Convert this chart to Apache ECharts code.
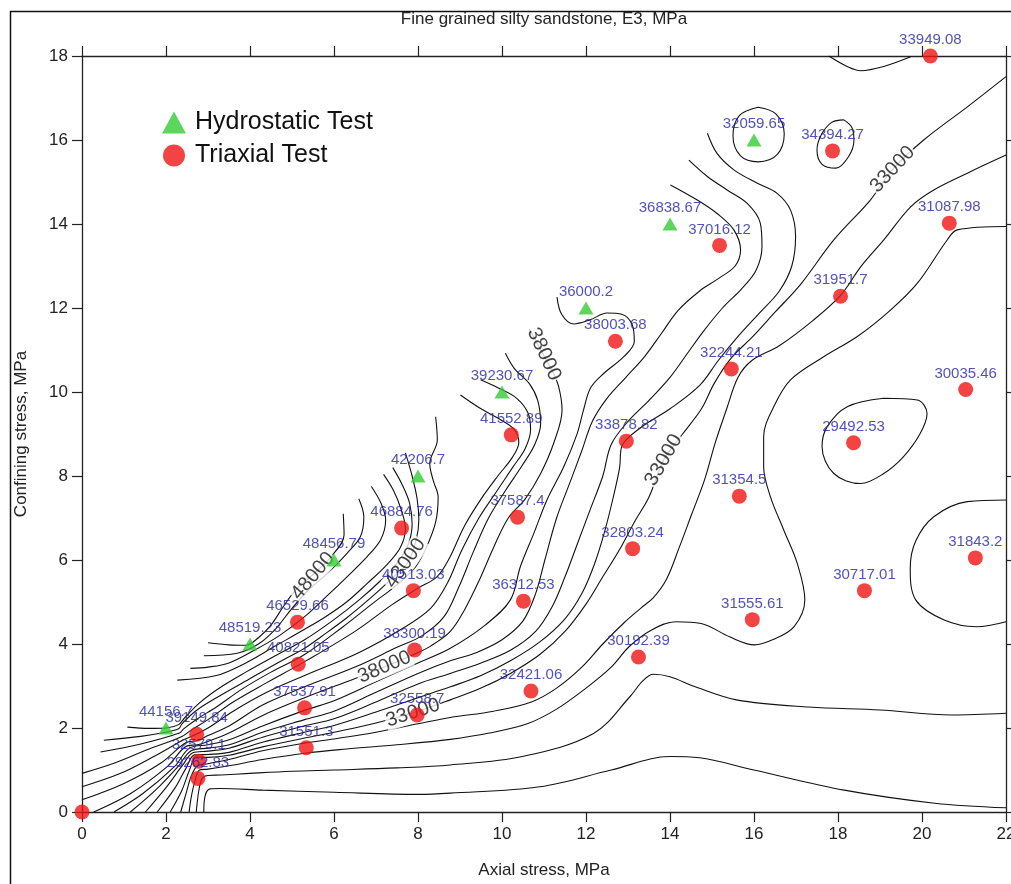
<!DOCTYPE html>
<html>
<head>
<meta charset="utf-8">
<script src="https://cdn.jsdelivr.net/npm/echarts@6.0.0/dist/echarts.min.js"></script>
<style>html,body{margin:0;padding:0;background:#fff;overflow:hidden}#chart{width:1011px;height:884px}</style>
</head>
<body>
<div id="chart"></div>
<script>
// ---- data points ----
const hydroX = [2, 4, 6, 8, 10, 12, 14, 16];
const hydroY = [2, 4, 6, 8, 10, 12, 14, 16];
const hydroLabels = ['44156.7','48519.23','48456.79','42206.7','39230.67','36000.2','36838.67','32059.65'];

const triaxX = [0, 20.2, 17.87, 20.65, 15.18, 18.06, 12.7, 15.46, 21.04, 10.22, 12.96, 18.37, 10.37, 15.65, 7.61, 13.11, 21.27, 18.63, 7.89, 10.51, 15.96, 5.13, 7.92, 5.15, 13.25, 5.3, 10.69, 7.98, 5.34, 2.73, 2.78, 2.76];
const triaxY = [0, 18, 15.74, 14.02, 13.49, 12.28, 11.21, 10.55, 10.06, 8.98, 8.83, 8.79, 7.02, 7.52, 6.76, 6.27, 6.05, 5.27, 5.27, 5.02, 4.58, 4.52, 3.86, 3.52, 3.69, 2.48, 2.88, 2.31, 1.53, 1.85, 1.21, 0.8];
const triaxLabels = ['', '33949.08','34394.27','31087.98','37016.12','31951.7','38003.68','32244.21','30035.46','41552.89','33878.82','29492.53','37587.4','31354.5','46884.76','32803.24','31843.2','30717.01','40513.03','36312.53','31555.61','46529.66','38300.19','40821.05','30192.39','37537.91','32421.06','32558.7','31551.3','39149.84','32579.1','29262.83'];

// ---- contour lines (data units) ----
const c48000 = [[6.22,7.1],[6.24,6.6],[5.95,6.1],[5.55,5.7],[5.1,5.3],[4.8,4.9],[4.5,4.45],[4.2,4.15],[3.9,3.97],[3.5,3.98],[3.0,4.03]];
const c47000 = [[6.59,7.46],[6.71,7.03],[6.63,6.56],[6.31,6.16],[5.84,5.68],[5.36,5.25],[5.0,4.85],[4.6,4.35],[4.2,4.0],[3.7,3.78],[2.9,3.72]];
const c46000 = [[6.89,7.75],[7.12,7.35],[7.23,6.95],[7.11,6.48],[6.79,6.08],[6.31,5.6],[5.84,5.15],[5.3,4.65],[4.7,4.2],[4.1,3.85],[3.5,3.55],[3.0,3.45],[2.58,3.42]];
const c45000 = [[7.18,8.04],[7.42,7.65],[7.6,7.2],[7.7,6.75],[7.58,6.3],[7.25,5.88],[6.8,5.45],[6.3,5.0],[5.8,4.65],[5.3,4.35],[4.6,3.95],[3.9,3.55],[3.2,3.25],[2.27,3.14]];
const c44000 = [[7.4,8.2],[7.62,7.8],[7.8,7.35],[7.86,6.85],[7.76,6.35],[7.5,5.92],[7.1,5.5],[6.6,5.05],[6.0,4.58],[5.3,4.1],[4.6,3.72],[3.9,3.33],[3.3,2.97],[2.8,2.6],[2.45,2.25],[2.3,2.08],[2.0,2.0],[1.6,1.99],[1.08,2.02]];
const c43000 = [[7.7,8.55],[7.86,8.0],[7.98,7.45],[8.02,6.95],[7.95,6.45],[7.75,5.93],[7.4,5.58],[6.9,5.12],[6.3,4.62],[5.7,4.18],[5.3,3.9],[4.6,3.52],[3.9,3.12],[3.2,2.72],[2.7,2.4],[2.38,2.1],[2.3,1.98],[1.9,1.88],[1.4,1.8],[0.52,1.71]];
const c42000 = [[8.42,9.41],[8.46,8.86],[8.28,8.3],[8.36,7.9],[8.48,7.5],[8.42,6.9],[8.2,6.3],[7.95,5.85],[7.55,5.45],[6.9,4.95],[6.2,4.4],[5.3,3.75],[4.5,3.33],[3.8,2.92],[3.2,2.5],[2.75,2.22],[2.42,1.98],[2.32,1.88],[1.4,1.62],[0.44,1.43]];
const c41000 = [[9.01,9.93],[9.5,9.6],[9.95,9.35],[10.3,9.1],[10.4,8.8],[10.25,8.45],[9.9,8.0],[9.5,7.45],[9.1,6.8],[8.75,6.05],[8.45,5.6],[8.0,5.33],[7.4,4.95],[6.5,4.3],[5.3,3.58],[4.4,3.08],[3.6,2.62],[3.0,2.2],[2.6,1.95],[2.38,1.8],[1.55,1.48],[0.76,1.16],[0,0.92]];
const c40000 = [[9.49,10.29],[9.9,10.1],[10.35,9.85],[10.62,9.5],[10.68,9.1],[10.55,8.65],[10.25,8.2],[9.85,7.6],[9.45,7.0],[9.05,6.25],[8.7,5.45],[8.3,4.85],[7.6,4.35],[6.6,3.8],[5.3,3.25],[4.4,2.85],[3.6,2.4],[3.0,2.0],[2.65,1.82],[2.42,1.72],[1.71,1.32],[0.92,0.92],[0,0.6]];
const c39000 = [[10.08,10.92],[10.3,10.55],[10.65,10.2],[10.85,9.8],[10.92,9.25],[10.78,8.75],[10.48,8.25],[10.08,7.65],[9.68,7.0],[9.32,6.2],[8.97,5.35],[8.62,4.65],[8.1,4.2],[7.5,3.92],[6.5,3.45],[5.3,2.98],[4.3,2.55],[3.5,2.05],[3.0,1.82],[2.75,1.7],[2.47,1.65],[1.87,1.16],[1.0,0.68],[0,0.29]];
const c38000 = [[10.65,11.5],[10.95,10.95],[11.2,10.5],[11.35,10.12],[11.43,9.57],[11.23,8.78],[10.92,8.06],[10.55,7.45],[10.15,7.0],[9.8,6.3],[9.45,5.5],[9.1,4.8],[8.77,4.3],[8.3,3.95],[7.9,3.75],[7.2,3.45],[6.3,3.1],[5.3,2.72],[4.3,2.3],[3.5,1.88],[3.0,1.68],[2.75,1.6],[2.52,1.58],[2.03,1.08],[1.16,0.44],[0.28,0]];
const c37000 = [[11.31,12.26],[11.42,11.85],[11.7,11.62],[12.1,11.72],[12.5,11.88],[12.85,11.85],[13.1,11.6],[13.15,11.2],[12.9,10.84],[12.42,10.44],[12.11,10.1],[11.94,9.57],[11.79,9.01],[11.47,8.22],[11.07,7.43],[10.76,6.64],[10.44,5.85],[10.2,5.05],[9.6,4.45],[8.77,3.9],[8.0,3.55],[7.0,3.1],[6.0,2.65],[5.3,2.42],[4.3,2.05],[3.5,1.72],[3.0,1.6],[2.56,1.52],[2.2,1.08],[1.45,0.44],[0.76,0]];
const c36000 = [[14.01,14.93],[14.65,14.57],[15.12,14.25],[15.52,13.86],[15.68,13.38],[15.55,13.0],[15.15,12.7],[14.7,12.4],[14.2,11.95],[13.8,11.4],[13.4,10.85],[12.95,10.35],[12.5,9.85],[12.15,9.3],[11.9,8.6],[11.6,7.8],[11.3,7.0],[11.02,6.0],[10.8,5.2],[10.5,4.55],[10.0,4.1],[9.4,3.8],[8.77,3.6],[8.0,3.3],[7.0,2.85],[6.0,2.4],[5.3,2.2],[4.3,1.9],[3.5,1.6],[3.0,1.52],[2.6,1.46],[2.3,1.1],[1.75,0.52],[1.15,0]];
const c35000 = [[14.45,15.52],[14.89,15.13],[15.36,14.81],[15.84,14.49],[16.15,14.02],[16.19,13.46],[16.05,12.9],[15.7,12.45],[15.25,12.0],[14.8,11.45],[14.4,10.9],[14.0,10.35],[13.5,9.8],[13.0,9.3],[12.6,8.75],[12.4,8.0],[12.1,7.2],[11.8,6.4],[11.5,5.6],[11.2,4.9],[10.8,4.3],[10.2,3.85],[9.5,3.55],[8.77,3.3],[8.0,3.05],[7.0,2.62],[6.0,2.22],[5.3,2.05],[4.3,1.78],[3.5,1.52],[3.0,1.45],[2.64,1.41],[2.4,1.12],[2.0,0.58],[1.51,0]];
const c34000 = [[14.89,16.16],[15.12,15.68],[15.52,15.29],[16.08,14.97],[16.55,14.73],[16.87,14.33],[16.99,13.7],[16.9,13.0],[16.6,12.4],[16.1,11.85],[15.6,11.3],[15.15,10.75],[14.7,10.15],[14.0,9.6],[13.3,9.15],[12.85,8.7],[12.8,8.2],[12.65,7.5],[12.45,6.7],[12.2,5.9],[11.9,5.2],[11.5,4.6],[10.9,4.05],[10.2,3.6],[9.5,3.25],[8.77,2.98],[8.0,2.72],[7.0,2.38],[6.0,2.06],[5.3,1.9],[4.3,1.66],[3.5,1.42],[3.0,1.37],[2.68,1.36],[2.48,1.05],[2.22,0.58],[1.79,0]];
const c33000 = [[22,17.51],[21.08,16.79],[20.04,16.0],[19.3,15.3],[18.77,14.57],[17.9,13.62],[17.1,12.55],[16.5,11.9],[15.95,11.3],[15.45,10.8],[15.05,10.2],[14.75,9.6],[14.3,9.0],[13.85,8.38],[13.5,7.5],[13.15,6.9],[12.8,6.25],[12.4,5.6],[12.0,4.95],[11.5,4.3],[10.9,3.75],[10.2,3.3],[9.5,2.95],[8.77,2.67],[8.0,2.4],[7.0,2.12],[6.0,1.9],[5.3,1.76],[4.3,1.55],[3.5,1.35],[3.0,1.3],[2.72,1.31],[2.56,1.0],[2.38,0.52],[2.1,0]];
const c32000 = [[22,15.64],[21.08,15.21],[20.28,14.81],[19.73,14.41],[19.09,13.62],[18.54,12.98],[18.06,12.3],[17.4,11.7],[16.6,11.1],[15.95,10.75],[15.62,10.35],[15.35,9.6],[15.08,8.8],[14.82,7.9],[14.52,7.1],[14.22,6.3],[13.92,5.55],[13.6,5.1],[13.3,4.85],[12.9,4.5],[12.4,4.0],[11.9,3.45],[11.3,2.95],[10.7,2.62],[9.8,2.4],[8.77,2.25],[8.0,2.1],[7.0,1.9],[6.0,1.74],[5.3,1.64],[4.3,1.46],[3.5,1.25],[3.0,1.15],[2.75,1.1],[2.6,0.85],[2.48,0.45],[2.35,0]];
const c31000 = [[22,13.94],[20.84,13.86],[20.6,13.62],[19.89,12.59],[19.25,11.95],[18.46,11.32],[17.66,10.84],[16.87,10.29],[16.47,9.65],[16.23,8.94],[16.23,8.22],[16.39,7.51],[16.71,6.71],[17.03,5.92],[17.21,5.05],[16.95,4.41],[16.44,4.1],[16.01,3.98],[15.42,4.17],[14.74,4.49],[14.14,4.53],[13.55,4.33],[13.03,3.94],[12.6,3.45],[12.0,2.95],[11.3,2.45],[10.6,2.1],[9.7,1.88],[8.77,1.73],[7.5,1.6],[6.3,1.5],[5.3,1.4],[4.3,1.25],[3.5,1.1],[3.0,1.02],[2.8,1.0],[2.68,0.7],[2.6,0.35],[2.55,0]];
const c30000 = [[22,2.35],[20.7,2.31],[19.0,2.43],[17.3,2.5],[15.58,2.67],[14.6,2.98],[14.0,3.22],[13.6,3.28],[13.35,3.12],[13.05,2.75],[12.18,1.87],[10.48,1.32],[8.77,1.12],[7.5,1.05],[6.0,1.0],[5.0,0.97],[4.0,0.92],[3.3,0.88],[3.0,0.87],[2.86,0.8],[2.78,0.5],[2.74,0.2],[2.72,0]];
const c29000 = [[22,0.1],[20.3,0.21],[18.15,0.52],[16.0,1.0],[14.7,1.29],[14.0,1.32],[12.6,1.0],[10.9,0.6],[8.77,0.45],[8.0,0.42],[6.0,0.47],[4.3,0.52],[3.3,0.56],[3.05,0.55],[2.93,0.38],[2.9,0]];
const loopA = [[16.1,16.78],[16.52,16.62],[16.72,16.15],[16.55,15.65],[16.1,15.48],[15.68,15.62],[15.5,16.1],[15.65,16.58],[16.1,16.78]];
const loopB = [[18.14,16.48],[18.33,16.3],[18.38,16.0],[18.25,15.6],[17.95,15.33],[17.62,15.42],[17.5,15.76],[17.6,16.12],[17.85,16.42],[18.14,16.48]];
const topArc = [[17.78,18],[18.22,17.75],[18.54,17.65],[19.09,17.75],[19.73,17.98]];
const loopC = [[19.09,9.85],[19.89,9.81],[20.12,9.49],[19.95,9.0],[19.55,8.45],[19.09,8.06],[18.54,7.82],[17.9,8.06],[17.62,8.7],[17.74,9.17],[18.22,9.65],[19.09,9.85]];
const loopD = [[22,7.43],[21.08,7.39],[20.28,7.03],[19.85,6.45],[19.72,5.8],[19.85,5.05],[20.53,4.57],[21.3,4.41],[22,4.53]];

const contourLines = [c48000,c47000,c46000,c45000,c44000,c43000,c42000,c41000,c40000,c39000,c38000,c37000,c36000,c35000,c34000,c33000,c32000,c31000,c30000,c29000,loopA,loopB,topArc,loopC,loopD];

// contour level labels
const levelLabelText = ['48000','43000','38000','38000','33000','33000','33000'];
const levelLabelX = [5.5, 7.7, 11.0, 7.2, 19.3, 13.85, 7.88];
const levelLabelY = [5.62, 5.92, 10.9, 3.45, 15.3, 8.38, 2.36];
const levelLabelAngle = [50, 55, -65, 23, 47, 60, 18];

// tick values
const xTicks = {min: 0, max: 22, step: 2};
const yTicks = {min: 0, max: 18, step: 2};

const FONT = 'Liberation Sans, Arial, sans-serif';
const chart = echarts.init(document.getElementById('chart'), null, {renderer: 'canvas', width: 1011, height: 884});

const series = [];
contourLines.forEach(function (arr) {
  series.push({
    type: 'line', data: arr, symbol: 'none', showSymbol: false, smooth: 0.35,
    lineStyle: {color: '#111', width: 1.1}, silent: true, z: 1, animation: false
  });
});
series.push({
  type: 'scatter', z: 2, symbolSize: 1, silent: true, animation: false,
  itemStyle: {color: 'rgba(0,0,0,0)'},
  data: levelLabelText.map(function (t, i) {
    return {value: [levelLabelX[i], levelLabelY[i]], name: t,
      label: {rotate: levelLabelAngle[i]}};
  }),
  label: {show: true, position: 'inside', formatter: '{b}', fontFamily: FONT, fontSize: 20,
    color: '#111', backgroundColor: '#fff', padding: [0, 1]}
});
series.push({
  name: 'Hydrostatic Test', type: 'scatter', symbol: 'triangle', symbolSize: [15, 13], z: 4,
  clip: false, animation: false,
  itemStyle: {color: '#33cc33'},
  data: hydroX.map(function (x, i) { return {value: [x, hydroY[i]], name: hydroLabels[i]}; }),
  label: {show: true, position: 'top', distance: 2, formatter: '{b}', fontFamily: FONT, fontSize: 15, color: '#2626a6'}
});
series.push({
  name: 'Triaxial Test', type: 'scatter', symbol: 'circle', symbolSize: 15, z: 5,
  clip: false, animation: false,
  itemStyle: {color: '#f01414'},
  data: triaxX.map(function (x, i) { return {value: [x, triaxY[i]], name: triaxLabels[i]}; }),
  label: {show: true, position: 'top', distance: 1, formatter: '{b}', fontFamily: FONT, fontSize: 15, color: '#2626a6'}
});

const axisCommon = {
  type: 'value', splitLine: {show: false},
  axisLine: {show: true, onZero: false, lineStyle: {color: '#222', width: 1.3}},
  axisTick: {show: true, inside: false, length: 10, lineStyle: {color: '#222', width: 1.2}},
  axisLabel: {fontFamily: FONT, fontSize: 17, color: '#222', margin: 14}
};

chart.setOption({
  animation: false,
  backgroundColor: '#fff',
  textStyle: {fontFamily: FONT},
  graphic: [{type: 'rect', left: 8, top: 9, shape: {width: 1200, height: 1000},
    style: {fill: 'none', stroke: '#111', lineWidth: 1.5}, silent: true, z: -1}],
  legend: {
    orient: 'vertical', left: 157, top: 105, itemGap: 8, itemWidth: 24, itemHeight: 22,
    data: ['Hydrostatic Test', 'Triaxial Test'],
    textStyle: {fontFamily: FONT, fontSize: 25, color: '#111', lineHeight: 25, padding: [0, 0, 0, 4]},
    selectedMode: false
  },
  grid: {left: 82, right: 5, top: 56, bottom: 72, containLabel: false, outerBoundsMode: 'none'},
  xAxis: [
    Object.assign({}, axisCommon, {position: 'bottom', min: xTicks.min, max: xTicks.max, interval: xTicks.step,
      name: 'Axial stress, MPa', nameLocation: 'middle', nameGap: 50,
      nameTextStyle: {fontFamily: FONT, fontSize: 17, color: '#222'}}),
    Object.assign({}, axisCommon, {position: 'top', min: xTicks.min, max: xTicks.max, interval: xTicks.step,
      axisLabel: {show: false},
      name: 'Fine grained silty sandstone, E3, MPa', nameLocation: 'middle', nameGap: 28,
      nameTextStyle: {fontFamily: FONT, fontSize: 17, color: '#222'}})
  ],
  yAxis: [
    Object.assign({}, axisCommon, {position: 'left', min: yTicks.min, max: yTicks.max, interval: yTicks.step,
      name: 'Confining stress, MPa', nameLocation: 'middle', nameGap: 52,
      nameTextStyle: {fontFamily: FONT, fontSize: 17, color: '#222'}}),
    Object.assign({}, axisCommon, {position: 'right', min: yTicks.min, max: yTicks.max, interval: yTicks.step,
      axisLabel: {show: false}})
  ],
  series: series
});
</script>
</body>
</html>
